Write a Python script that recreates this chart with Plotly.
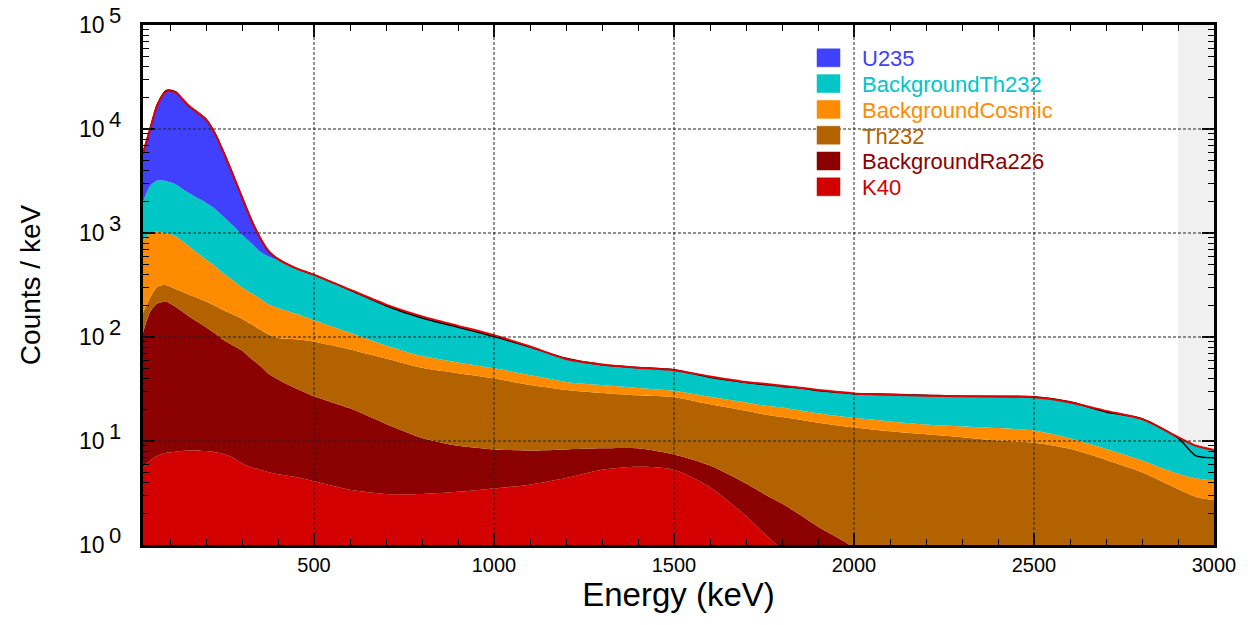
import plotly.graph_objects as go
import numpy as np

# ---------------- data (counts / keV, per component) ----------------
energy = [25, 45, 65, 90, 115, 150, 200, 225, 250, 275, 300, 325, 350, 375, 400, 450, 500,
          600, 700, 800, 900, 1000, 1100, 1200, 1300, 1400, 1500, 1600, 1700, 1750, 1800,
          1850, 1900, 1950, 2000, 2100, 2200, 2300, 2400, 2500, 2600, 2700, 2800, 2900, 2950, 3000]

k40 = [5.5, 6.5, 7.2, 7.7, 7.9, 8.1, 8.0, 7.8, 7.5, 6.9, 6.1, 5.6, 5.3, 5.0, 4.8, 4.5, 4.1,
       3.4, 3.1, 3.1, 3.25, 3.5, 3.8, 4.4, 5.3, 5.65, 5.3, 3.6, 1.9, 1.3, 0.9,
       0.6, 0.4, 0.3, 0.2, 0.1, 0.05, 0.03, 0.02, 0.01, 0.01, 0.01, 0.01, 0.01, 0.01, 0.01]

bg_ra226 = [104.5, 168.5, 202.8, 210.3, 187.1, 151.9, 116, 100.2, 85.5, 76.1, 67.9, 56.4, 47.7, 39, 34.2, 27.5, 22.9,
            17.2, 11.5, 7.6, 5.75, 4.8, 4.3, 3.9, 3.2, 2.85, 2.1, 2.2, 2.0, 1.8, 1.6,
            1.35, 1.1, 0.9, 0.75, 0.5, 0.35, 0.25, 0.18, 0.12, 0.09, 0.07, 0.05, 0.04, 0.03, 0.03]

th232 = [60, 65, 95, 97, 95, 98, 96, 92, 87, 82, 76, 71, 65, 61, 59, 63, 63,
         55.4, 47.4, 39.8, 35.8, 31.7, 26.4, 22.7, 20.5, 19, 18.9, 16.7, 15.6, 14.9, 14.5,
         14.05, 13.5, 13.0, 12.55, 11.8, 11.2, 10.6, 9.9, 9.47, 8.3, 6.5, 4.95, 3.4, 2.85, 2.65]

bg_cosmic = [680, 760, 725, 685, 640, 502, 335, 280, 225, 185, 150, 132, 117, 100, 92, 72, 55,
             34, 21, 15, 12.2, 10, 8.5, 6, 5.5, 4.9, 4.1, 4.1, 4.0, 4.0, 4.0,
             3.7, 3.5, 3.3, 3.2, 3.0, 2.8, 2.9, 3.2, 3.0, 2.2, 1.8, 1.5, 1.4, 1.5, 1.5]

bg_th232 = [1150, 1850, 2170, 2150, 2020, 1690, 1395, 1220, 1015, 830, 660, 535, 430, 385, 355, 288, 250,
            175, 122, 92.5, 71, 54, 38, 24.5, 20, 18.3, 17.6, 15.2, 13.5, 13.5, 13,
            12.8, 12.5, 12.3, 12, 12.4, 12.8, 13.1, 13.3, 13.7, 12.9, 11.1, 9.7, 6.05, 4.6, 4.0]

u235 = [3800, 7150, 13800, 19850, 19550, 14550, 10350, 7300, 4380, 2420, 1240, 550, 235, 75, 15, 2, 0.5,
        0, 0, 0, 0, 0, 0, 0, 0, 0, 0, 0, 0, 0, 0,
        0, 0, 0, 0, 0, 0, 0, 0, 0, 0, 0, 0, 0, 0, 0]

data_counts = [5900, 10100, 17300, 23500, 22800, 16900, 12500, 9100, 5900, 3650, 2220, 1370, 905, 655, 565, 460, 398,
               283, 200, 152, 124, 101, 80, 62.5, 54, 51, 48.5, 41, 36.5, 35, 33.5,
               32.5, 30.5, 29.5, 28.5, 28.2, 27.6, 26.9, 27.0, 26.6, 23.8, 19.0, 16.4, 10.7, 7.2, 6.9]

# stacking order (bottom -> top), names and colours
components = [
    ("K40", k40, "#d20000"),
    ("BackgroundRa226", bg_ra226, "#8b0000"),
    ("Th232", th232, "#b36200"),
    ("BackgroundCosmic", bg_cosmic, "#ff8c00"),
    ("BackgroundTh232", bg_th232, "#00c6c6"),
    ("U235", u235, "#4040ff"),
]

x_ticks = [500, 1000, 1500, 2000, 2500, 3000]
x_minor = [v for v in range(100, 3001, 100) if v % 500 != 0]
y_exponents = [0, 1, 2, 3, 4, 5]
y_ticks = [10 ** e for e in y_exponents]
y_minor = [m * 10 ** e for e in range(0, 5) for m in range(2, 10)]
shade_start = 2900
x_range = [25, 3000]

FONT = "Liberation Sans, Arial, sans-serif"

# ---------------- figure ----------------
fig = go.Figure()

# invisible baseline for the bottom fill
fig.add_trace(go.Scatter(x=energy, y=[1e-3] * len(energy), mode="lines",
                         line=dict(width=0), showlegend=False, hoverinfo="skip"))

cum = np.zeros(len(energy))
for name, vals, col in components:
    cum = cum + np.array(vals, dtype=float)
    fig.add_trace(go.Scatter(x=energy, y=cum.copy(), mode="lines", name=name,
                             fill="tonexty", fillcolor=col,
                             line=dict(width=0, color=col, shape="spline", smoothing=0.7),
                             showlegend=False, hoverinfo="skip"))

total = cum.copy()
fig.add_trace(go.Scatter(x=energy, y=data_counts, mode="lines",
                         line=dict(color="black", width=1.5, shape="spline", smoothing=0.7),
                         showlegend=False, hoverinfo="skip"))
fig.add_trace(go.Scatter(x=energy, y=total, mode="lines",
                         line=dict(color="#e00000", width=2, shape="spline", smoothing=0.7),
                         showlegend=False, hoverinfo="skip"))

GRID = dict(color="#222222", width=1, dash="3px,2px")
shapes = []
# shaded region
shapes.append(dict(type="rect", xref="x", yref="paper", x0=shade_start, x1=x_range[1], y0=0, y1=1,
                   fillcolor="#f0f0f0", line=dict(width=0), layer="below"))
# grid lines on top of the fills
for xv in x_ticks[:-1]:
    shapes.append(dict(type="line", xref="x", yref="paper", x0=xv, x1=xv, y0=0, y1=1,
                       line=GRID, layer="above"))
for yv in y_ticks[1:-1]:
    shapes.append(dict(type="line", xref="paper", yref="y", x0=0, x1=1, y0=yv, y1=yv,
                       line=GRID, layer="above"))

# pixel helpers for layout placement
L, R, T, B = 143, 1214, 25, 545
def px(xp):
    return (xp - L) / (R - L)
def py(yp):
    return 1 - (yp - T) / (B - T)

annotations = []
# y tick labels: "10" with a full-size exponent
for e, yv in zip(y_exponents, y_ticks):
    annotations.append(dict(xref="paper", yref="y", x=px(107), y=e, text="10", showarrow=False,
                            xanchor="right", yanchor="middle",
                            font=dict(family=FONT, size=23, color="black")))
    annotations.append(dict(xref="paper", yref="y", x=px(107), y=e, text=str(e), showarrow=False,
                            xanchor="left", yanchor="middle", yshift=10,
                            font=dict(family=FONT, size=22, color="black")))

# legend drawn manually
legend_rows = list(reversed(components))
for i, (name, vals, col) in enumerate(legend_rows):
    yc = 57.8 + i * 25.8
    shapes.append(dict(type="rect", xref="paper", yref="paper",
                       x0=px(817), x1=px(840), y0=py(yc - 9), y1=py(yc + 9),
                       fillcolor=col, line=dict(width=0.5, color=col), layer="above"))
    annotations.append(dict(xref="paper", yref="paper", x=px(860), y=py(yc + 1),
                            text=name, showarrow=False, xanchor="left", yanchor="middle",
                            font=dict(family=FONT, size=22, color=col)))

fig.update_layout(
    width=1252, height=625,
    margin=dict(l=L, r=1252 - R, t=T, b=625 - B),
    plot_bgcolor="white", paper_bgcolor="white",
    font=dict(family=FONT, color="black"),
    shapes=shapes, annotations=annotations,
    showlegend=False,
    xaxis=dict(range=x_range, showline=True, linewidth=3, linecolor="black", mirror="ticks",
               ticks="inside", ticklen=12, tickwidth=1.5, tickcolor="black",
               tickmode="array", tickvals=x_ticks, ticktext=[str(v) for v in x_ticks],
               tickfont=dict(size=20, family=FONT), showgrid=False, zeroline=False,
               ticklabelstandoff=0,
               minor=dict(ticks="inside", ticklen=6, tickwidth=1, tickcolor="black",
                          tickmode="array", tickvals=x_minor, showgrid=False),
               title=dict(text="Energy (keV)", font=dict(size=33, family=FONT), standoff=6)),
    yaxis=dict(type="log", range=[0, 5], showline=True, linewidth=3, linecolor="black", mirror="ticks",
               ticks="inside", ticklen=12, tickwidth=1.5, tickcolor="black",
               tickmode="array", tickvals=y_ticks, showticklabels=False,
               showgrid=False, zeroline=False,
               minor=dict(ticks="inside", ticklen=6, tickwidth=1, tickcolor="black",
                          tickmode="array", tickvals=y_minor, showgrid=False),
               title=dict(text="Counts / keV", font=dict(size=28, family=FONT), standoff=92)),
)

fig.write_html("out.html")
